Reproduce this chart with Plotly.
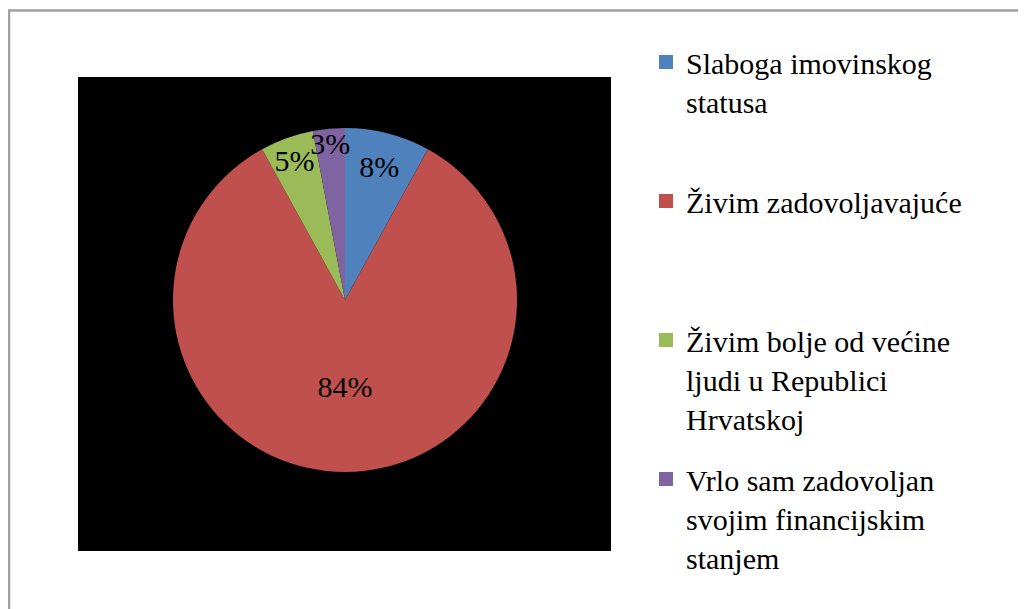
import plotly.graph_objects as go

categories = [
    "Slaboga imovinskog statusa",
    "Živim zadovoljavajuće",
    "Živim bolje od većine ljudi u Republici Hrvatskoj",
    "Vrlo sam zadovoljan svojim financijskim stanjem",
]
legend_lines = [
    ["Slaboga imovinskog", "statusa"],
    ["Živim zadovoljavajuće"],
    ["Živim bolje od većine", "ljudi u Republici", "Hrvatskoj"],
    ["Vrlo sam zadovoljan", "svojim financijskim", "stanjem"],
]
values = [8, 84, 5, 3]
colors = ["#4F81BD", "#C0504D", "#9BBB59", "#8064A2"]

W, H = 1026, 609
FONT = "Times New Roman, Liberation Serif, serif"
OFF = 8  # page body margin


def px(x):
    return (x - OFF) / W


def py(y):
    return 1 - (y - OFF) / H


fig = go.Figure()

cx, cy, r = 345, 300, 172
fig.add_trace(go.Pie(
    labels=categories,
    values=values,
    sort=False,
    direction="clockwise",
    rotation=0,
    marker=dict(colors=colors, line=dict(width=0)),
    textinfo="percent",
    textposition="inside",
    insidetextorientation="horizontal",
    textfont=dict(family=FONT, size=30, color="black"),
    showlegend=False,
    domain=dict(x=[px(cx - r), px(cx + r)], y=[py(cy + r), py(cy - r)]),
    hoverinfo="label+percent",
))

for i, (lines, c) in enumerate(zip(legend_lines, colors)):
    padded = lines + [" "] * (3 - len(lines))
    fig.add_trace(go.Scatter(
        x=[None], y=[None], mode="markers",
        marker=dict(symbol="square", size=14, color=c),
        name="<br>".join(padded),
        legendgroup=f"g{i}",
        showlegend=True,
        hoverinfo="skip",
    ))

fig.update_layout(
    width=W, height=H,
    margin=dict(l=0, r=0, t=0, b=0, autoexpand=False),
    paper_bgcolor="white",
    plot_bgcolor="white",
    xaxis=dict(visible=False),
    yaxis=dict(visible=False),
    uniformtext=dict(minsize=30, mode="show"),
    legend=dict(
        xref="container", yref="container",
        x=(638) / W, y=1 - 28 / H,
        xanchor="left", yanchor="top",
        valign="top",
        tracegroupgap=19,
        maxheight=600,
        font=dict(family=FONT, size=30, color="black"),
        bgcolor="rgba(0,0,0,0)",
    ),
    shapes=[
        dict(type="rect", xref="paper", yref="paper",
             x0=px(78), x1=px(611), y0=py(551), y1=py(77),
             fillcolor="black", line=dict(width=0), layer="below"),
        dict(type="rect", xref="paper", yref="paper",
             x0=px(9), x1=1.05, y0=-0.05, y1=py(10.5),
             fillcolor="rgba(0,0,0,0)", line=dict(color="#A0A0A0", width=2.5),
             layer="above"),
    ],
)

fig.write_html("out.html")
